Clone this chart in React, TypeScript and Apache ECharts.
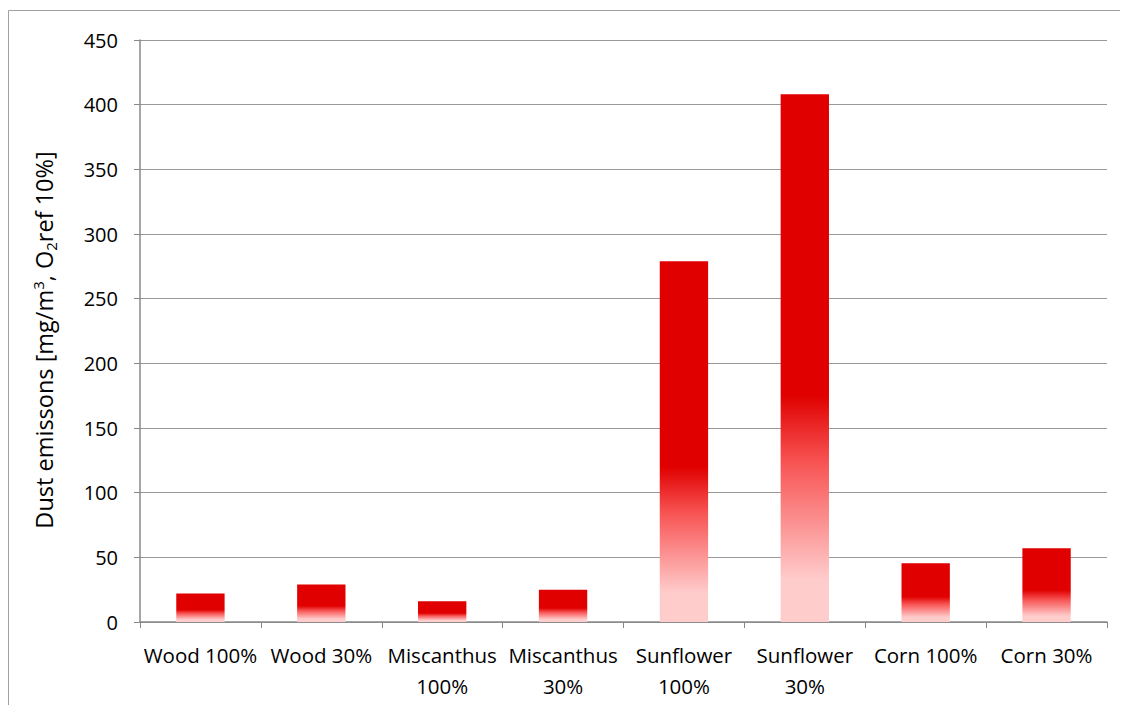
import React, { useEffect, useRef } from "react";
import * as echarts from "echarts";

const categories = [
  "Wood 100%",
  "Wood 30%",
  "Miscanthus\n100%",
  "Miscanthus\n30%",
  "Sunflower\n100%",
  "Sunflower\n30%",
  "Corn 100%",
  "Corn 30%",
];
const dustValues = [22, 29, 16, 25, 279, 408, 45.5, 57];
const yTicks = { min: 0, max: 450, interval: 50 };

const FONT = "'Open Sans', 'Liberation Sans', sans-serif";

export default function App() {
  const ref = useRef<HTMLDivElement>(null);
  useEffect(() => {
    if (!ref.current) return;
    document.documentElement.style.overflow = "hidden";
    const chart = echarts.init(ref.current, null, { renderer: "svg" });
    const barColor = new echarts.graphic.LinearGradient(0, 0, 0, 1, [
      { offset: 0, color: "#e00000" },
      { offset: 0.57, color: "#e00000" },
      { offset: 0.7, color: "#f85555" },
      { offset: 0.92, color: "#ffcccc" },
      { offset: 1, color: "#ffcccc" },
    ]);
    chart.setOption({
      animation: false,
      backgroundColor: "#ffffff",
      textStyle: { fontFamily: FONT },
      graphic: [
        {
          type: "rect",
          shape: { x: 0.5, y: 2.5, width: 1118, height: 760 },
          style: { fill: "none", stroke: "#a0a0a0", lineWidth: 1 },
          silent: true,
        },
      ],
      grid: {
        left: 132,
        top: 32,
        right: 21,
        bottom: 83,
        containLabel: false,
        outerBoundsMode: "none",
      },
      xAxis: {
        type: "category",
        data: categories,
        boundaryGap: true,
        axisLine: { lineStyle: { color: "#888888", width: 1.5 } },
        axisTick: { show: true, length: 6, alignWithLabel: false, lineStyle: { color: "#888888" } },
        axisLabel: {
          color: "#000",
          fontSize: 20.5,
          fontFamily: FONT,
          margin: 17,
          lineHeight: 31,
          interval: 0,
        },
      },
      yAxis: {
        type: "value",
        min: yTicks.min,
        max: yTicks.max,
        interval: yTicks.interval,
        name: "{n|Dust emissons [mg/m}{sup|3}{n|, O}{sub|2}{n|ref 10%]}",
        nameLocation: "middle",
        nameGap: 82,
        nameRotate: 90,
        nameTextStyle: {
          padding: [0, 18, 0, 0],
          rich: {
            n: { fontSize: 23.5, color: "#000", fontFamily: FONT, verticalAlign: "middle", lineHeight: 28 },
            sup: { fontSize: 15, color: "#000", fontFamily: FONT, verticalAlign: "top", lineHeight: 28, padding: [0, 0, 10, 0] },
            sub: { fontSize: 15, color: "#000", fontFamily: FONT, verticalAlign: "bottom", lineHeight: 28, padding: [10, 0, 0, 0] },
          },
        },
        axisLine: { show: true, lineStyle: { color: "#888888", width: 1.5 } },
        axisTick: { show: true, length: 6, inside: false, lineStyle: { color: "#888888" } },
        splitLine: { show: true, lineStyle: { color: "#999999", width: 1.2 } },
        axisLabel: { color: "#000", fontSize: 20, fontFamily: FONT, margin: 22 },
      },
      series: [
        {
          type: "bar",
          data: dustValues,
          barWidth: "40%",
          itemStyle: { color: barColor },
        },
      ],
    });
    return () => chart.dispose();
  }, []);
  return <div ref={ref} style={{ width: 1120, height: 697 }} />;
}
